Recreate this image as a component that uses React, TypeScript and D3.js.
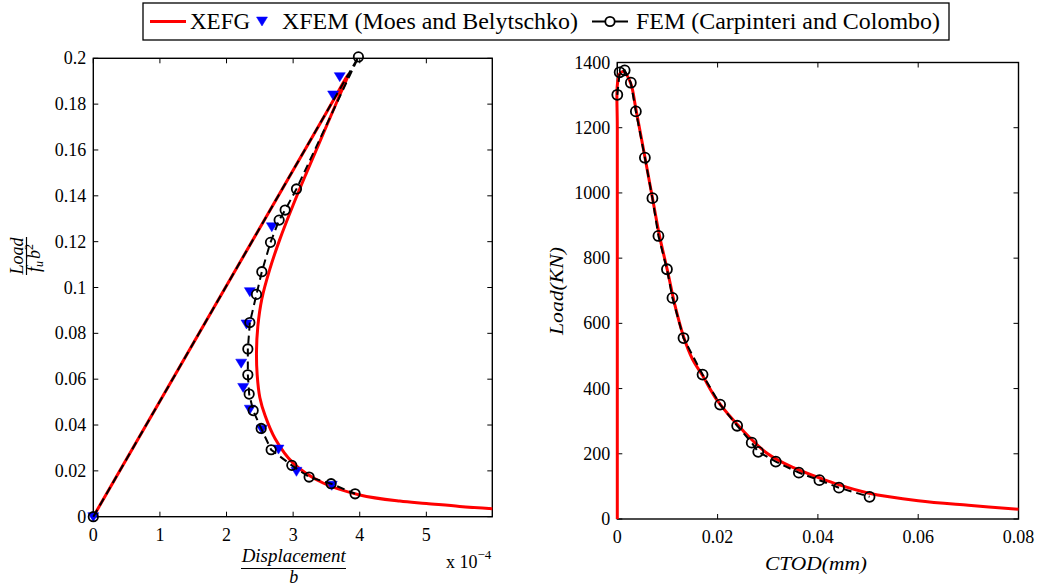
import React from 'react';
import * as d3 from 'd3';

// ---------- Left panel: normalised load vs displacement (x 1e-4) ----------
const xefgDispX = [0, 3.5, 3.83, 3.7, 3.45, 3.2, 3.0, 2.8, 2.65, 2.53, 2.47, 2.45, 2.46, 2.5, 2.58, 2.73, 3.0, 3.45, 4.0, 4.6, 5.0, 5.5, 5.99];
const xefgDispY = [0, 0.1764, 0.193, 0.184, 0.167, 0.15, 0.136, 0.121, 0.108, 0.095, 0.083, 0.072, 0.062, 0.052, 0.044, 0.034, 0.0234, 0.0147, 0.0095, 0.0068, 0.0058, 0.0045, 0.0035];

const xfemDispX = [0, 3.7, 3.6, 2.68, 2.35, 2.3, 2.22, 2.25, 2.35, 2.53, 2.78, 3.05, 3.58];
const xfemDispY = [0, 0.192, 0.184, 0.1265, 0.0982, 0.0841, 0.067, 0.0564, 0.0469, 0.0382, 0.0295, 0.0198, 0.0137];

const femDispX = [0, 3.98, 3.05, 2.88, 2.79, 2.66, 2.53, 2.45, 2.35, 2.32, 2.32, 2.34, 2.4, 2.52, 2.67, 2.98, 3.24, 3.57, 3.93];
const femDispY = [0, 0.2006, 0.143, 0.1338, 0.1294, 0.1197, 0.1069, 0.097, 0.0847, 0.0732, 0.0619, 0.0535, 0.0463, 0.0385, 0.0292, 0.0224, 0.0173, 0.0144, 0.01];

// ---------- Right panel: load (KN) vs CTOD (mm) ----------
const xefgCtodX = [0, 0, 0, 0.0005, 0.0013, 0.0027, 0.0037, 0.0055, 0.007, 0.0085, 0.01, 0.0115, 0.0132, 0.015, 0.017, 0.02, 0.025, 0.03, 0.035, 0.04, 0.044, 0.05, 0.06, 0.07, 0.08];
const xefgCtodY = [0, 1200, 1330, 1366, 1372, 1335, 1258, 1110, 985, 862, 762, 655, 560, 490, 440, 362, 272, 200, 158, 128, 106, 80, 56, 42, 30];

const femCtodX = [0, 0.00047, 0.00147, 0.0027, 0.0037, 0.0055, 0.007, 0.0082, 0.0099, 0.011, 0.0132, 0.017, 0.0205, 0.0239, 0.0268, 0.0281, 0.0316, 0.0362, 0.0403, 0.0442, 0.0503];
const femCtodY = [1301, 1370, 1376, 1338, 1250, 1108, 984, 868, 766, 678, 555, 443, 351, 286, 234, 206, 176, 142, 119, 96, 68];

// ---------- Ticks ----------
const leftXTicks = [0, 1, 2, 3, 4, 5];
const leftYTicks = [0, 0.02, 0.04, 0.06, 0.08, 0.1, 0.12, 0.14, 0.16, 0.18, 0.2];
const rightXTicks = [0, 0.02, 0.04, 0.06, 0.08];
const rightYTicks = [0, 200, 400, 600, 800, 1000, 1200, 1400];

const legendLabels = ['XEFG', 'XFEM (Moes and Belytschko)', 'FEM (Carpinteri and Colombo)'];

const FONT = 'Liberation Serif';
const RED = '#ff0000';
const BLUE = '#0000ff';

const fmt = (v: number) => String(+v.toFixed(3));

const zip = (xs: number[], ys: number[]) => xs.map((x, i) => [x, ys[i]] as [number, number]);

const TRI = 'M-5.5,-4L5.5,-4L0,5Z';

function Frame({ x, y, xTicks, yTicks }: any) {
  const [x0, x1] = x.range();
  const [y0, y1] = y.range(); // y0 bottom, y1 top
  const tl = 5;
  return (
    <g>
      <rect x={x0} y={y1} width={x1 - x0} height={y0 - y1} fill="none" stroke="#000" strokeWidth={1.4} />
      {xTicks.map((t: number) => (
        <g key={'xt' + t}>
          <line x1={x(t)} x2={x(t)} y1={y0} y2={y0 - tl} stroke="#000" strokeWidth={1} />
          <line x1={x(t)} x2={x(t)} y1={y1} y2={y1 + tl} stroke="#000" strokeWidth={1} />
          <text x={x(t)} y={y0 + 24} textAnchor="middle" fontFamily={FONT} fontSize={18}>{fmt(t)}</text>
        </g>
      ))}
      {yTicks.map((t: number) => (
        <g key={'yt' + t}>
          <line x1={x0} x2={x0 + tl} y1={y(t)} y2={y(t)} stroke="#000" strokeWidth={1} />
          <line x1={x1} x2={x1 - tl} y1={y(t)} y2={y(t)} stroke="#000" strokeWidth={1} />
          <text x={x0 - 7} y={y(t) + 6} textAnchor="end" fontFamily={FONT} fontSize={18}>{fmt(t)}</text>
        </g>
      ))}
    </g>
  );
}

export default function App() {
  // Left scales
  const xL = d3.scaleLinear().domain([0, 5.99]).range([93.3, 492.3]);
  const yL = d3.scaleLinear().domain([0, 0.2]).range([516.7, 58.3]);
  // Right scales
  const xR = d3.scaleLinear().domain([0, 0.08]).range([617.3, 1018.5]);
  const yR = d3.scaleLinear().domain([0, 1400]).range([519, 62.5]);

  const lineL = d3.line<[number, number]>().x(d => xL(d[0])).y(d => yL(d[1]));
  const smoothL = d3.line<[number, number]>().x(d => xL(d[0])).y(d => yL(d[1])).curve(d3.curveCatmullRom.alpha(0.5));
  const lineR = d3.line<[number, number]>().x(d => xR(d[0])).y(d => yR(d[1]));
  const smoothR = d3.line<[number, number]>().x(d => xR(d[0])).y(d => yR(d[1])).curve(d3.curveCatmullRom.alpha(0.5));

  const xefgL = zip(xefgDispX, xefgDispY);
  const xfemL = zip(xfemDispX, xfemDispY);
  const femL = zip(femDispX, femDispY);
  const xefgR = zip(xefgCtodX, xefgCtodY);
  const femR = zip(femCtodX, femCtodY);

  return (
    <svg width={1038} height={588} style={{ display: 'block', position: 'absolute', left: 0, top: 0, background: '#fff' }} fontFamily={FONT}>
      <rect width={1038} height={588} fill="#fff" />

      {/* ---------- Left panel ---------- */}
      <Frame x={xL} y={yL} xTicks={leftXTicks} yTicks={leftYTicks} />
      <path d={smoothL(xefgL) || ''} fill="none" stroke={RED} strokeWidth={3} strokeLinejoin="round" />
      {xfemL.map((d, i) => (
        <path key={'tl' + i} d={TRI} transform={`translate(${xL(d[0])},${yL(d[1])})`} fill={BLUE} stroke={BLUE} strokeWidth={0.5} />
      ))}
      <path d={lineL(femL) || ''} fill="none" stroke="#000" strokeWidth={2} strokeDasharray="8,5" />
      {femL.map((d, i) => (
        <circle key={'cl' + i} cx={xL(d[0])} cy={yL(d[1])} r={4.7} fill="none" stroke="#000" strokeWidth={1.8} />
      ))}

      {/* left y label: Load / (f_u b^2) */}
      <g transform="translate(26.5,256) rotate(-90)" fontFamily={FONT} fontStyle="italic" fontSize={18}>
        <text x={0} y={-4} textAnchor="middle">Load</text>
        <line x1={-19} x2={19} y1={0} y2={0} stroke="#000" strokeWidth={1.2} />
        <text x={-2} y={13} textAnchor="middle">
          f<tspan fontSize={12} dy={3}>u</tspan><tspan dy={-3} dx={2}>b</tspan><tspan fontSize={12} fontStyle="normal" dy={-7}>2</tspan>
        </text>
      </g>

      {/* left x label: Displacement / b */}
      <g fontFamily={FONT} fontStyle="italic" fontSize={18}>
        <text x={293.7} y={562} textAnchor="middle" textLength={104} lengthAdjust="spacingAndGlyphs">Displacement</text>
        <line x1={241} x2={346} y1={568.5} y2={568.5} stroke="#000" strokeWidth={1.2} />
        <text x={293.7} y={583} textAnchor="middle">b</text>
      </g>
      <text x={446} y={568} fontFamily={FONT} fontSize={18}>
        x 10<tspan fontSize={13} dy={-9}>−4</tspan>
      </text>

      {/* ---------- Right panel ---------- */}
      <Frame x={xR} y={yR} xTicks={rightXTicks} yTicks={rightYTicks} />
      <path d={smoothR(xefgR) || ''} fill="none" stroke={RED} strokeWidth={3} strokeLinejoin="round" />
      <path d={lineR(femR) || ''} fill="none" stroke="#000" strokeWidth={2} strokeDasharray="8,5" />
      {femR.map((d, i) => (
        <circle key={'cr' + i} cx={xR(d[0])} cy={yR(d[1])} r={5} fill="none" stroke="#000" strokeWidth={1.8} />
      ))}

      <text transform="translate(563,291) rotate(-90)" textAnchor="middle" textLength={88} lengthAdjust="spacingAndGlyphs" fontFamily={FONT} fontStyle="italic" fontSize={19}>Load(KN)</text>
      <text x={816} y={570} textAnchor="middle" textLength={102} lengthAdjust="spacingAndGlyphs" fontFamily={FONT} fontStyle="italic" fontSize={19}>CTOD(mm)</text>

      {/* ---------- Legend ---------- */}
      <rect x={143} y={3} width={806} height={37} fill="#fff" stroke="#000" strokeWidth={1.3} />
      <line x1={150} x2={186} y1={21.5} y2={21.5} stroke={RED} strokeWidth={3} />
      <text x={190} y={29} fontFamily={FONT} fontSize={23}>{legendLabels[0]}</text>
      <path d={TRI} transform="translate(262,21)" fill={BLUE} stroke={BLUE} strokeWidth={0.5} />
      <text x={282} y={29} textLength={296} lengthAdjust="spacingAndGlyphs" fontFamily={FONT} fontSize={23}>{legendLabels[1]}</text>
      <line x1={592} x2={628} y1={21.5} y2={21.5} stroke="#000" strokeWidth={2} />
      <circle cx={610} cy={21.5} r={4.7} fill="#fff" stroke="#000" strokeWidth={1.8} />
      <text x={636} y={29} textLength={304} lengthAdjust="spacingAndGlyphs" fontFamily={FONT} fontSize={23}>{legendLabels[2]}</text>
    </svg>
  );
}
